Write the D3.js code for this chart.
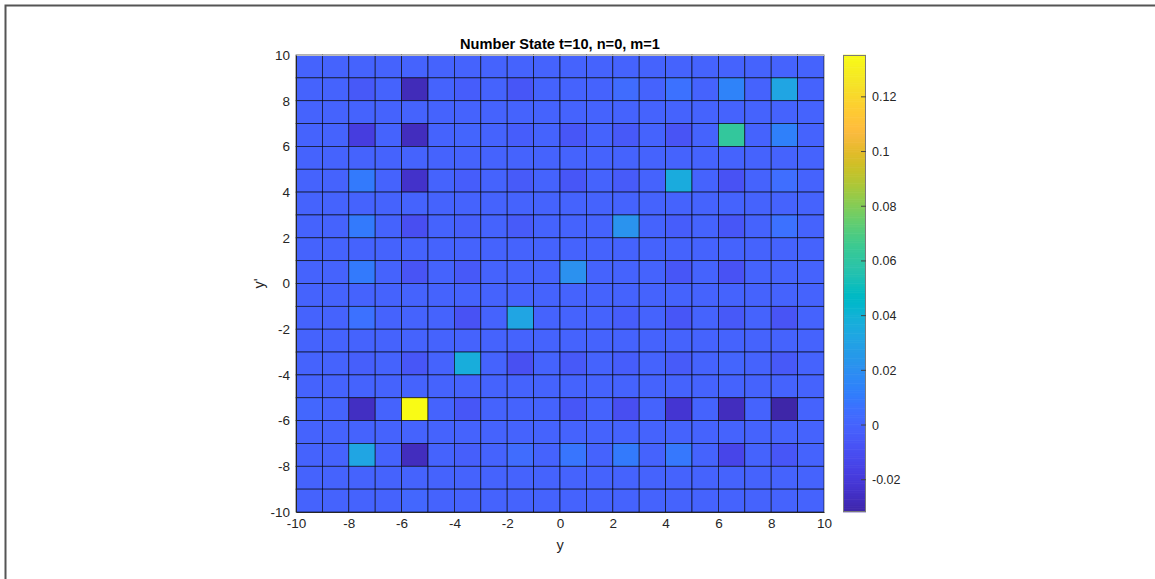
<!DOCTYPE html>
<html>
<head>
<meta charset="utf-8">
<script src="https://cdn.jsdelivr.net/npm/d3@7"></script>
<style>
  html, body { margin: 0; padding: 0; background: #fff; }
  svg { display: block; }
  text { font-family: "Liberation Sans", Arial, Helvetica, sans-serif; }
</style>
</head>
<body>
<svg id="chart" width="1155" height="579"></svg>
<script>
// Grid edges (cell boundaries) along each axis
const xEdges = d3.range(-10, 11, 1);
const yEdges = d3.range(-10, 11, 1);

// Cell values, one row per y-cell from top (y = 9..10) to bottom (y = -10..-9),
// columns left to right from x = -10..-9 to x = 9..10
const zRows = [
  [0, 0, 0, 0, 0, 0, 0, 0, 0, 0, 0, 0, 0, 0, 0, 0, 0, 0, 0, 0],
  [0, 0, -0.005, 0, -0.028, 0, -0.003, 0, -0.006, 0, 0, 0, 0.004, 0, 0.006, 0, 0.014, 0, 0.032, 0],
  [0, 0, 0, 0, 0, 0, 0, 0, 0, 0, 0, 0, 0, 0, 0, 0, 0, 0, 0, 0],
  [0, 0, -0.018, 0, -0.027, 0, 0.001, 0, -0.003, 0, -0.006, 0, -0.005, 0, -0.007, 0, 0.062, 0, 0.013, 0],
  [0, 0, 0, 0, 0, 0, 0, 0, 0, 0, 0, 0, 0, 0, 0, 0, 0, 0, 0, 0],
  [0, 0, 0.010, 0, -0.024, 0, -0.003, 0, -0.004, 0, -0.006, 0, -0.004, 0, 0.036, 0, -0.008, 0, 0.005, 0],
  [0, 0, 0, 0, 0, 0, 0, 0, 0, 0, 0, 0, 0, 0, 0, 0, 0, 0, 0, 0],
  [0, 0, 0.010, 0, -0.010, 0, -0.002, 0, -0.004, 0, 0, 0, 0.022, 0, -0.003, 0, -0.006, 0, 0.006, 0],
  [0, 0, 0, 0, 0, 0, 0, 0, 0, 0, 0, 0, 0, 0, 0, 0, 0, 0, 0, 0],
  [0, 0, 0.010, 0, -0.007, 0, -0.005, 0, 0, 0, 0.021, 0, 0, 0, -0.006, 0, -0.008, 0, 0, 0],
  [0, 0, 0, 0, 0, 0, 0, 0, 0, 0, 0, 0, 0, 0, 0, 0, 0, 0, 0, 0],
  [0, 0, 0.006, 0, 0, 0, -0.008, 0, 0.032, 0, 0, 0, -0.003, 0, -0.006, 0, -0.005, 0, -0.007, 0],
  [0, 0, 0, 0, 0, 0, 0, 0, 0, 0, 0, 0, 0, 0, 0, 0, 0, 0, 0, 0],
  [0, 0, -0.002, 0, -0.006, 0, 0.037, 0, -0.009, 0, -0.005, 0, -0.003, 0, -0.004, 0, 0.001, 0, -0.005, 0],
  [0, 0, 0, 0, 0, 0, 0, 0, 0, 0, 0, 0, 0, 0, 0, 0, 0, 0, 0, 0],
  [0.002, 0, -0.026, 0, 0.1353, 0, -0.006, 0, 0, 0, -0.006, 0, -0.010, 0, -0.022, 0, -0.027, 0, -0.0318, 0],
  [0, 0, 0, 0, 0, 0, 0, 0, 0, 0, 0, 0, 0, 0, 0, 0, 0, 0, 0, 0],
  [0, 0, 0.032, 0, -0.027, 0, -0.002, 0, 0.004, 0, 0.008, 0, 0.010, 0, 0.009, 0, -0.014, 0, -0.006, 0],
  [0, 0, 0, 0, 0, 0, 0, 0, 0, 0, 0, 0, 0, 0, 0, 0, 0, 0, 0, 0],
  [0, 0, 0, 0, 0.002, 0, 0, 0, 0, 0, 0, 0, 0, 0, 0, 0, 0, 0, 0, 0]
];

const xTicks = [-10, -8, -6, -4, -2, 0, 2, 4, 6, 8, 10];
const yTicks = [-10, -8, -6, -4, -2, 0, 2, 4, 6, 8, 10];
const cbTicks = [-0.02, 0, 0.02, 0.04, 0.06, 0.08, 0.1, 0.12];
const colorLimits = [-0.0318, 0.1353];

const titleText = "Number State t=10, n=0, m=1";
const xLabelText = "y";
const yLabelText = "y'";

// Parula colormap (64 entries)
const parula = [
  [0.2422,0.1504,0.6603],[0.2504,0.1650,0.7076],[0.2578,0.1818,0.7511],[0.2647,0.1978,0.7952],
  [0.2706,0.2147,0.8364],[0.2751,0.2342,0.8710],[0.2783,0.2559,0.8991],[0.2803,0.2782,0.9221],
  [0.2813,0.3006,0.9414],[0.2810,0.3228,0.9579],[0.2795,0.3447,0.9717],[0.2760,0.3667,0.9829],
  [0.2699,0.3892,0.9906],[0.2602,0.4123,0.9952],[0.2440,0.4358,0.9988],[0.2206,0.4603,0.9973],
  [0.1963,0.4847,0.9892],[0.1834,0.5074,0.9798],[0.1786,0.5289,0.9682],[0.1764,0.5499,0.9520],
  [0.1687,0.5703,0.9359],[0.1540,0.5902,0.9218],[0.1460,0.6091,0.9079],[0.1380,0.6276,0.8973],
  [0.1248,0.6459,0.8883],[0.1113,0.6635,0.8763],[0.0952,0.6798,0.8598],[0.0689,0.6948,0.8394],
  [0.0297,0.7082,0.8163],[0.0036,0.7203,0.7917],[0.0067,0.7312,0.7660],[0.0433,0.7411,0.7394],
  [0.0964,0.7500,0.7120],[0.1408,0.7584,0.6842],[0.1717,0.7670,0.6554],[0.1938,0.7758,0.6251],
  [0.2161,0.7843,0.5923],[0.2470,0.7918,0.5567],[0.2906,0.7973,0.5188],[0.3406,0.8008,0.4789],
  [0.3909,0.8029,0.4354],[0.4456,0.8024,0.3909],[0.5044,0.7993,0.3480],[0.5616,0.7942,0.3045],
  [0.6174,0.7876,0.2612],[0.6720,0.7793,0.2227],[0.7242,0.7698,0.1910],[0.7738,0.7598,0.1646],
  [0.8203,0.7498,0.1535],[0.8634,0.7406,0.1596],[0.9035,0.7330,0.1774],[0.9393,0.7288,0.2100],
  [0.9728,0.7298,0.2394],[0.9956,0.7434,0.2371],[0.9970,0.7659,0.2199],[0.9952,0.7893,0.2028],
  [0.9892,0.8136,0.1885],[0.9786,0.8386,0.1766],[0.9676,0.8639,0.1643],[0.9610,0.8890,0.1537],
  [0.9597,0.9135,0.1423],[0.9628,0.9373,0.1265],[0.9691,0.9606,0.1064],[0.9769,0.9839,0.0805]
].map(c => d3.rgb(c[0] * 255, c[1] * 255, c[2] * 255).formatHex());

const parulaInterp = d3.piecewise(d3.interpolateRgb, parula);
const color = d3.scaleSequential(parulaInterp).domain(colorLimits).clamp(true);

const svg = d3.select("#chart");

// Figure frame
svg.append("path")
  .attr("d", "M5.5,579 L5.5,5.5 L1155,5.5")
  .attr("fill", "none")
  .attr("stroke", "#555")
  .attr("stroke-width", 2);

const plot = { left: 296, right: 824, top: 55, bottom: 512 };
const x = d3.scaleLinear().domain([-10, 10]).range([plot.left, plot.right]);
const y = d3.scaleLinear().domain([-10, 10]).range([plot.bottom, plot.top]);

// Cells
const cells = [];
zRows.forEach((row, r) => {
  const y0 = yEdges[yEdges.length - 2 - r];
  const y1 = yEdges[yEdges.length - 1 - r];
  row.forEach((v, c) => {
    cells.push({ x0: xEdges[c], x1: xEdges[c + 1], y0, y1, v });
  });
});

svg.append("g")
  .selectAll("rect")
  .data(cells)
  .join("rect")
  .attr("x", d => x(d.x0))
  .attr("y", d => y(d.y1))
  .attr("width", d => x(d.x1) - x(d.x0))
  .attr("height", d => y(d.y0) - y(d.y1))
  .attr("fill", d => color(d.v))
  .attr("stroke", "#000")
  .attr("stroke-opacity", 0.75)
  .attr("stroke-width", 0.8);

// Axes box (top and right edges)
svg.append("path")
  .attr("d", `M${plot.left},${plot.top + 0.5} L${plot.right + 0.5},${plot.top + 0.5} L${plot.right + 0.5},${plot.bottom}`)
  .attr("fill", "none")
  .attr("stroke", "#bdbdbd")
  .attr("stroke-width", 1);

// Axes (plain hyphen minus in labels)
const intFmt = d => String(d);
const xAxis = d3.axisBottom(x).tickValues(xTicks).tickSize(0).tickPadding(6).tickFormat(intFmt);
const yAxis = d3.axisLeft(y).tickValues(yTicks).tickSize(0).tickPadding(6).tickFormat(intFmt);

const gx = svg.append("g").attr("transform", `translate(0,${plot.bottom})`).call(xAxis);
const gy = svg.append("g").attr("transform", `translate(${plot.left},0)`).call(yAxis);

[gx, gy].forEach(g => {
  g.select(".domain").attr("stroke", "#262626").attr("stroke-width", 1);
  g.selectAll("text")
    .attr("fill", "#262626")
    .style("font-size", "13.5px")
    .style("font-family", "'Liberation Sans', Arial, sans-serif");
});

// Title and axis labels
svg.append("text")
  .attr("x", (plot.left + plot.right) / 2)
  .attr("y", 49)
  .attr("text-anchor", "middle")
  .style("font-size", "14.6px")
  .style("font-weight", "bold")
  .attr("fill", "#000")
  .text(titleText);

svg.append("text")
  .attr("x", (plot.left + plot.right) / 2)
  .attr("y", 550)
  .attr("text-anchor", "middle")
  .style("font-size", "14.5px")
  .attr("fill", "#262626")
  .text(xLabelText);

svg.append("text")
  .attr("transform", `translate(264,${(plot.top + plot.bottom) / 2}) rotate(-90)`)
  .attr("text-anchor", "middle")
  .style("font-size", "14.5px")
  .attr("fill", "#262626")
  .text(yLabelText);

// Colorbar
const cb = { left: 843, width: 23 };
const cbScale = d3.scaleLinear().domain(colorLimits).range([plot.bottom, plot.top]);
const nSteps = 256;
const steps = d3.range(nSteps).map(i => colorLimits[0] + (i + 0.5) * (colorLimits[1] - colorLimits[0]) / nSteps);
const stepH = (plot.bottom - plot.top) / nSteps;

svg.append("g")
  .selectAll("rect")
  .data(steps)
  .join("rect")
  .attr("x", cb.left)
  .attr("y", d => cbScale(d) - stepH / 2 - 0.3)
  .attr("width", cb.width)
  .attr("height", stepH + 0.6)
  .attr("fill", d => color(d));

svg.append("rect")
  .attr("x", cb.left + 0.5)
  .attr("y", plot.top + 0.5)
  .attr("width", cb.width - 1)
  .attr("height", plot.bottom - plot.top - 1)
  .attr("fill", "none")
  .attr("stroke", "#7a7a7a")
  .attr("stroke-width", 1);

const cbAxis = d3.axisRight(cbScale).tickValues(cbTicks).tickSize(0).tickPadding(6)
  .tickFormat(d => String(+d.toFixed(2)));
const gcb = svg.append("g").attr("transform", `translate(${cb.left + cb.width},0)`).call(cbAxis);
gcb.select(".domain").remove();
gcb.selectAll("text")
  .attr("fill", "#262626")
  .style("font-size", "12.5px")
  .style("font-family", "'Liberation Sans', Arial, sans-serif");

// Small inward tick marks on the colorbar's right edge
svg.append("g")
  .selectAll("line")
  .data(cbTicks)
  .join("line")
  .attr("x1", cb.left + cb.width - 5)
  .attr("x2", cb.left + cb.width)
  .attr("y1", d => cbScale(d))
  .attr("y2", d => cbScale(d))
  .attr("stroke", "#444")
  .attr("stroke-width", 1);
</script>
</body>
</html>
